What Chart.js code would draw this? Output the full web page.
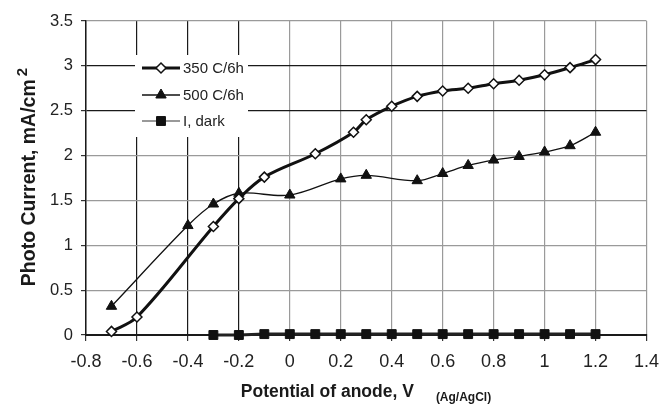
<!DOCTYPE html>
<html>
<head>
<meta charset="utf-8">
<script src="https://cdn.jsdelivr.net/npm/chart.js@4/dist/chart.umd.min.js"></script>
<style>
  html, body { margin: 0; padding: 0; background: #fff; }
  #wrap { width: 669px; height: 405px; }
</style>
</head>
<body>
<div id="wrap"><canvas id="myChart"></canvas></div>
<script>
// photo current (mA/cm2) vs potential of anode (V vs Ag/AgCl)
const potential350 = [-0.7, -0.6, -0.3, -0.2, -0.1, 0.1, 0.25, 0.3, 0.4, 0.5, 0.6, 0.7, 0.8, 0.9, 1.0, 1.1, 1.2];
const current350 = [0.04, 0.2, 1.21, 1.52, 1.76, 2.02, 2.26, 2.4, 2.55, 2.66, 2.72, 2.75, 2.8, 2.84, 2.9, 2.98, 3.07];

const potential500 = [-0.7, -0.4, -0.3, -0.2, 0, 0.2, 0.3, 0.5, 0.6, 0.7, 0.8, 0.9, 1.0, 1.1, 1.2];
const current500 = [0.32, 1.22, 1.46, 1.58, 1.56, 1.74, 1.78, 1.72, 1.8, 1.89, 1.95, 1.99, 2.04, 2.11, 2.26];

const potentialDark = [-0.3, -0.2, -0.1, 0, 0.1, 0.2, 0.3, 0.4, 0.5, 0.6, 0.7, 0.8, 0.9, 1.0, 1.1, 1.2];
const currentDark = [0, 0, 0.01, 0.01, 0.01, 0.01, 0.01, 0.01, 0.01, 0.01, 0.01, 0.01, 0.01, 0.01, 0.01, 0.01];

const seriesNames = ["350 C/6h", "500 C/6h", "I, dark"];

const xTickValues = [-0.8, -0.6, -0.4, -0.2, 0, 0.2, 0.4, 0.6, 0.8, 1, 1.2, 1.4];
const yTickValues = [0, 0.5, 1, 1.5, 2, 2.5, 3, 3.5];

function pairs(xs, ys) {
  return xs.map((x, i) => ({ x: x, y: ys[i] }));
}

function fmt(v) {
  return String(Math.round(v * 10) / 10);
}

// some grid lines in the original print come out black, the rest grey
function isOneOf(v, list) {
  return list.some(a => Math.abs(a - v) < 1e-6);
}

// legend drawn inside the plot, on a white box
const insetLegend = {
  id: "insetLegend",
  beforeDatasetsDraw(chart) {
    const ctx = chart.ctx;
    const area = chart.chartArea;
    const bx = area.left + 49, by = area.top + 34;
    ctx.save();
    ctx.fillStyle = "#fff";
    ctx.fillRect(bx, by, 113, 82);
    ctx.font = "15px 'Liberation Sans', Arial, sans-serif";
    ctx.textBaseline = "middle";
    ctx.textAlign = "left";
    const rows = [13, 40, 66];
    chart.data.datasets.forEach((ds, i) => {
      const yy = by + rows[i];
      const x0 = bx + 7;
      ctx.strokeStyle = ds.legendLineColor || ds.borderColor;
      ctx.lineWidth = ds.legendLineWidth || ds.borderWidth;
      ctx.beginPath();
      ctx.moveTo(x0, yy);
      ctx.lineTo(x0 + 38, yy);
      ctx.stroke();
      ctx.fillStyle = ds.pointBackgroundColor;
      ctx.strokeStyle = ds.pointBorderColor;
      ctx.lineWidth = ds.pointBorderWidth;
      Chart.helpers.drawPoint(ctx, {
        pointStyle: ds.pointStyle,
        radius: ds.pointRadius,
        rotation: 0,
        borderWidth: ds.pointBorderWidth
      }, x0 + 19, yy);
      ctx.fillStyle = "#222";
      ctx.fillText(ds.label, x0 + 41, yy + 1);
    });
    ctx.restore();
  }
};

// axis titles with super- and subscript parts
const axisTitles = {
  id: "axisTitles",
  afterDraw(chart) {
    const ctx = chart.ctx;
    ctx.save();
    ctx.fillStyle = "#1a1a1a";
    ctx.textBaseline = "alphabetic";
    ctx.textAlign = "left";

    // y title, rotated
    const mainY = "Photo Current, mA/cm";
    ctx.font = "bold 19.5px 'Liberation Sans', Arial, sans-serif";
    const wMain = ctx.measureText(mainY).width;
    ctx.font = "bold 15px 'Liberation Sans', Arial, sans-serif";
    const wSup = ctx.measureText("2").width;
    ctx.translate(35, 177);
    ctx.rotate(-Math.PI / 2);
    const startY = -(wMain + wSup + 3) / 2;
    ctx.font = "bold 19.5px 'Liberation Sans', Arial, sans-serif";
    ctx.fillText(mainY, startY, 0);
    ctx.font = "bold 15px 'Liberation Sans', Arial, sans-serif";
    ctx.fillText("2", startY + wMain + 3, -8);
    ctx.setTransform(1, 0, 0, 1, 0, 0);

    // x title
    const mainX = "Potential of anode, V";
    const subX = "(Ag/AgCl)";
    ctx.font = "bold 17.5px 'Liberation Sans', Arial, sans-serif";
    const wx = ctx.measureText(mainX).width;
    ctx.font = "bold 12px 'Liberation Sans', Arial, sans-serif";
    const ws = ctx.measureText(subX).width;
    const gap = 22;
    const sx = 366 - (wx + gap + ws) / 2;
    ctx.font = "bold 17.5px 'Liberation Sans', Arial, sans-serif";
    ctx.fillText(mainX, sx, 397);
    ctx.font = "bold 12px 'Liberation Sans', Arial, sans-serif";
    ctx.fillText(subX, sx + wx + gap, 401);
    ctx.restore();
  }
};

const ctx = document.getElementById("myChart").getContext("2d");

new Chart(ctx, {
  type: "line",
  data: {
    datasets: [
      {
        label: seriesNames[0],
        data: pairs(potential350, current350),
        borderColor: "#111",
        borderWidth: 3,
        tension: 0.35,
        pointStyle: "rectRot",
        pointRadius: 5,
        pointBackgroundColor: "#fff",
        pointBorderColor: "#111",
        pointBorderWidth: 1.5,
        clip: false
      },
      {
        label: seriesNames[1],
        data: pairs(potential500, current500),
        borderColor: "#111",
        borderWidth: 1.3,
        tension: 0.35,
        pointStyle: "triangle",
        pointRadius: 6,
        pointBackgroundColor: "#111",
        pointBorderColor: "#111",
        pointBorderWidth: 1,
        clip: false
      },
      {
        label: seriesNames[2],
        data: pairs(potentialDark, currentDark),
        borderColor: "#222",
        borderWidth: 3,
        legendLineColor: "#777",
        legendLineWidth: 1.5,
        tension: 0,
        pointStyle: "rect",
        pointRadius: 6.3,
        pointBackgroundColor: "#111",
        pointBorderColor: "#111",
        pointBorderWidth: 1,
        clip: false
      }
    ]
  },
  options: {
    responsive: true,
    maintainAspectRatio: false,
    animation: false,
    layout: { padding: { left: 0, right: 21, top: 21, bottom: 0 } },
    scales: {
      x: {
        type: "linear",
        min: -0.8,
        max: 1.4,
        afterBuildTicks(scale) {
          scale.ticks = xTickValues.map(v => ({ value: v }));
        },
        afterFit(scale) {
          scale.height = 70;
        },
        ticks: {
          callback: v => fmt(v),
          font: { family: "'Liberation Sans', Arial, sans-serif", size: 18 },
          color: "#222",
          padding: 10,
          maxRotation: 0,
          autoSkip: false
        },
        grid: {
          color: c => isOneOf(c.tick.value, [-0.6, -0.4, -0.2]) ? "#1a1a1a" : "#9a9a9a",
          lineWidth: 1.2,
          tickColor: "#333",
          tickLength: 6
        },
        border: { color: "#1a1a1a", width: 2 }
      },
      y: {
        min: 0,
        max: 3.5,
        afterBuildTicks(scale) {
          scale.ticks = yTickValues.map(v => ({ value: v }));
        },
        afterFit(scale) {
          scale.width = 86;
        },
        ticks: {
          callback: v => fmt(v),
          font: { family: "'Liberation Sans', Arial, sans-serif", size: 16.5 },
          color: "#222",
          padding: 8
        },
        grid: {
          color: c => isOneOf(c.tick.value, [2.5, 3]) ? "#1a1a1a" : "#9a9a9a",
          lineWidth: 1.2,
          tickColor: "#333",
          tickLength: 5
        },
        border: { color: "#1a1a1a", width: 1.5 }
      }
    },
    plugins: {
      legend: { display: false },
      tooltip: { enabled: false }
    }
  },
  plugins: [insetLegend, axisTitles]
});
</script>
</body>
</html>
